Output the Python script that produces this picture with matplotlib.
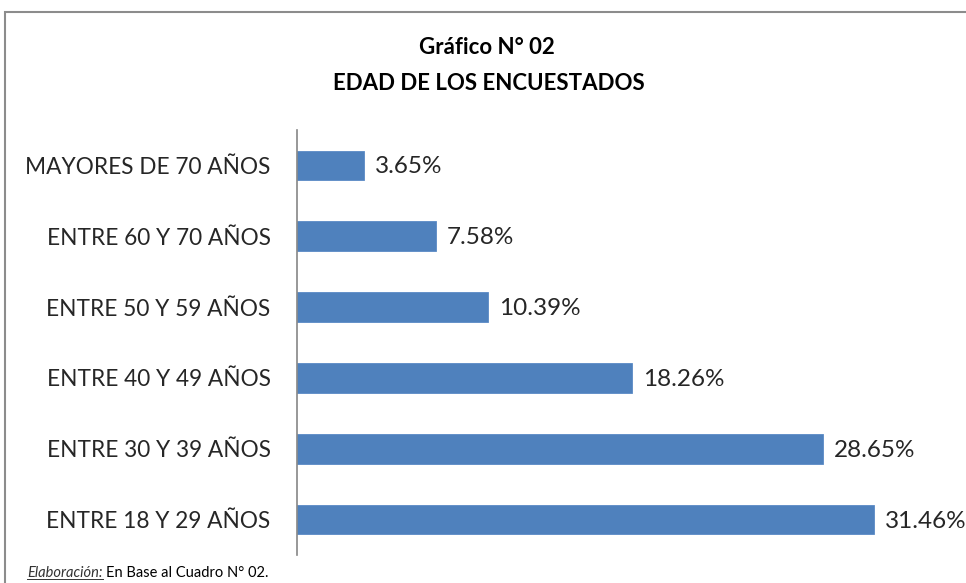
import matplotlib
matplotlib.use('Agg')
import matplotlib.pyplot as plt
from matplotlib.patches import Rectangle

categorias = ['MAYORES DE 70 AÑOS', 'ENTRE 60 Y 70 AÑOS', 'ENTRE 50 Y 59 AÑOS',
              'ENTRE 40 Y 49 AÑOS', 'ENTRE 30 Y 39 AÑOS', 'ENTRE 18 Y 29 AÑOS']
porcentajes = [3.65, 7.58, 10.39, 18.26, 28.65, 31.46]
etiquetas = ['3.65%', '7.58%', '10.39%', '18.26%', '28.65%', '31.46%']

plt.rcParams['font.family'] = ['Lato', 'DejaVu Sans']

W, H = 966, 583
fig = plt.figure(figsize=(W / 100, H / 100), dpi=100)

# marco gris del grafico
fig.patches.append(Rectangle((5 / W, -0.1), 1.2, (H - 12) / H + 0.1,
                             transform=fig.transFigure, fill=False,
                             edgecolor='#8c8c8c', linewidth=1.5))

ax = fig.add_axes([297 / W, 28 / H, 1 - 297 / W, (555 - 130) / H])
ax.set_facecolor('none')

y = list(range(len(categorias)))
ax.barh(y, porcentajes, height=0.42, color='#4F81BD', edgecolor='#5a8ac6', linewidth=0.6)
ax.set_ylim(len(categorias) - 0.5, -0.5)
ax.set_xlim(0, (W - 297) / 18.35)

for yi, v, t in zip(y, porcentajes, etiquetas):
    ax.text(v + 0.6, yi + 0.02, t, va='center', ha='left', fontsize=17.5, color='#262626')

ax.set_yticks(y)
ax.set_yticklabels(categorias, fontsize=16.3, color='#262626')
ax.tick_params(axis='y', length=0, pad=19)
ax.set_xticks([])
for s in ['top', 'right', 'bottom']:
    ax.spines[s].set_visible(False)
ax.spines['left'].set_color('#868686')
ax.spines['left'].set_linewidth(1.2)

fig.text(487 / W, 1 - 48 / H, 'Gráfico N° 02', ha='center', va='center',
         fontsize=16, fontweight='bold', color='black')
fig.text(489 / W, 1 - 83 / H, 'EDAD DE LOS ENCUESTADOS', ha='center', va='center',
         fontsize=16, fontweight='bold', color='black')

t1 = fig.text(27 / W, 1 - 573 / H, 'Elaboración:', ha='left', va='center',
              fontsize=10.5, style='italic', color='#333333')
fig.canvas.draw()
bb = t1.get_window_extent()
fig.text(bb.x1 / W + 3 / W, 1 - 573 / H, 'En Base al Cuadro N° 02.', ha='left',
         va='center', fontsize=10.5, color='black')
fig.add_artist(plt.Line2D([bb.x0 / W, bb.x1 / W], [bb.y0 / H + 1 / H, bb.y0 / H + 1 / H],
                          transform=fig.transFigure, color='#333333', linewidth=0.7))

fig.savefig('out.png', dpi=100)
